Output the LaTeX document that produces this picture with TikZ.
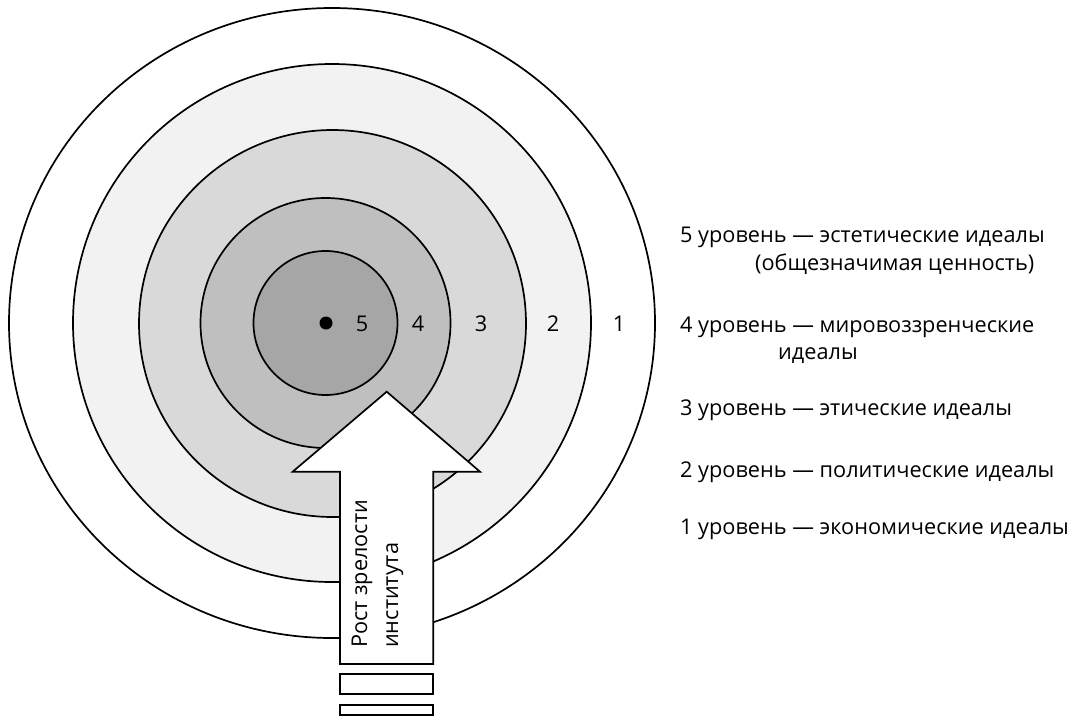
\documentclass[tikz,border=0pt]{standalone}
\usepackage{fontspec}
\setmainfont{Open Sans}
\definecolor{ringA}{HTML}{F2F2F2}
\definecolor{ringB}{HTML}{D9D9D9}
\definecolor{ringC}{HTML}{BFBFBF}
\definecolor{ringD}{HTML}{A6A6A6}
\begin{document}
\begin{tikzpicture}[x=1pt,y=-1pt,
  ring/.style={draw=black,line width=1.7pt},
  outlined/.style={draw=black,line width=1.7pt,fill=white,line join=miter},
  lbl/.style={inner sep=0pt,font=\fontsize{21.7}{26}\selectfont},
  num/.style={inner sep=0pt,anchor=base,font=\fontsize{21.7}{26}\selectfont}]
\useasboundingbox (0,0) rectangle (1078,717);
% rings
\draw[ring,fill=white] (332,323) ellipse [x radius=323pt,y radius=315pt];
\draw[ring,fill=ringA] (332,323) circle [radius=259pt];
\draw[ring,fill=ringB] (332.5,323.5) circle [radius=193.5pt];
\draw[ring,fill=ringC] (325.5,323) circle [radius=125pt];
\draw[ring,fill=ringD] (325.5,323) circle [radius=72pt];
\fill[black] (326,323) circle [radius=6.5pt];
% ring numbers
\node[num] (n5) at (362,331) {5};
\node[num] (n4) at (418,331) {4};
\node[num] (n3) at (481,331) {3};
\node[num] (n2) at (553,331) {2};
\node[num] (n1) at (619,331) {1};
% arrow
\draw[outlined] (386.7,391.7) -- (480,471.7) -- (433.3,471.7) -- (433.3,664)
  -- (340,664) -- (340,471.7) -- (292.7,471.7) -- cycle;
\draw[outlined] (340,674.3) rectangle (433.3,694.3);
\draw[outlined] (340,705) rectangle (433.3,715);
\node[lbl,rotate=90,anchor=base west] (a1) at (367,648) {Рост зрелости};
\node[lbl,rotate=90,anchor=base west] (a2) at (398,648) {института};
% legend
\node[lbl,anchor=base west] (l5) at (680,242) {5 уровень — эстетические идеалы};
\node[lbl,anchor=base west] (l5b) at (755,270) {(общезначимая ценность)};
\node[lbl,anchor=base west] (l4) at (680,332) {4 уровень — мировоззренческие};
\node[lbl,anchor=base west] (l4b) at (778,359) {идеалы};
\node[lbl,anchor=base west] (l3) at (680,415) {3 уровень — этические идеалы};
\node[lbl,anchor=base west] (l2) at (680,477) {2 уровень — политические идеалы};
\node[lbl,anchor=base west] (l1) at (680,534) {1 уровень — экономические идеалы};
\end{tikzpicture}
\end{document}
